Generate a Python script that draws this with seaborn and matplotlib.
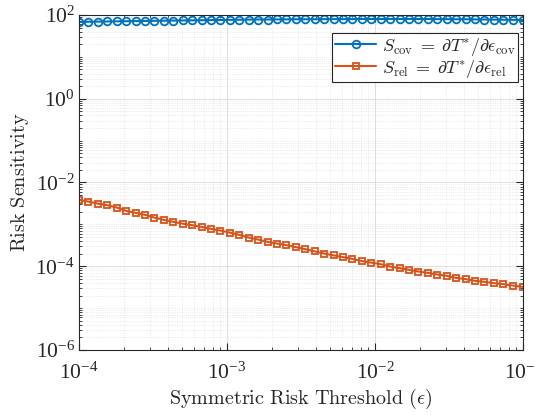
import numpy as np
import pandas as pd
import seaborn as sns
import matplotlib
matplotlib.use("Agg")
import matplotlib.pyplot as plt
from matplotlib.ticker import LogLocator, FixedLocator, NullFormatter

# Risk threshold grid (epsilon)
epsilon = [
    1.000e-4, 1.158e-4, 1.341e-4, 1.553e-4, 1.798e-4, 2.082e-4, 2.411e-4, 2.792e-4,
    3.233e-4, 3.744e-4, 4.335e-4, 5.020e-4, 5.813e-4, 6.732e-4, 7.795e-4, 9.027e-4,
    1.045e-3, 1.210e-3, 1.402e-3, 1.623e-3, 1.880e-3, 2.176e-3, 2.520e-3, 2.918e-3,
    3.380e-3, 3.914e-3, 4.532e-3, 5.248e-3, 6.077e-3, 7.037e-3, 8.149e-3, 9.437e-3,
    1.093e-2, 1.265e-2, 1.465e-2, 1.697e-2, 1.965e-2, 2.275e-2, 2.635e-2, 3.051e-2,
    3.533e-2, 4.091e-2, 4.737e-2, 5.486e-2, 6.353e-2, 7.356e-2, 8.519e-2, 1.000e-1,
]

# Sensitivity with respect to the covariance risk budget
s_cov = [
    68.0, 69.0, 69.5, 70.0, 70.5, 71.0, 71.5, 72.0,
    72.5, 73.0, 73.5, 74.0, 74.5, 75.0, 75.5, 76.0,
    76.5, 77.0, 77.5, 78.0, 78.0, 78.5, 78.5, 79.0,
    79.0, 79.0, 79.5, 79.5, 79.5, 79.5, 80.0, 80.0,
    80.0, 80.0, 80.0, 80.0, 80.0, 80.0, 79.5, 79.5,
    79.0, 79.0, 78.5, 78.0, 77.5, 77.0, 76.5, 76.0,
]

# Sensitivity with respect to the reliability risk budget
s_rel = [
    3.85e-3, 3.50e-3, 3.13e-3, 2.87e-3, 2.52e-3, 2.10e-3, 1.88e-3, 1.69e-3,
    1.45e-3, 1.28e-3, 1.15e-3, 1.04e-3, 9.57e-4, 8.71e-4, 7.81e-4, 7.11e-4,
    6.37e-4, 5.61e-4, 4.84e-4, 4.34e-4, 3.82e-4, 3.48e-4, 3.19e-4, 2.87e-4,
    2.56e-4, 2.27e-4, 2.01e-4, 1.82e-4, 1.65e-4, 1.50e-4, 1.33e-4, 1.22e-4,
    1.12e-4, 9.84e-5, 9.02e-5, 8.20e-5, 7.48e-5, 6.96e-5, 6.34e-5, 5.90e-5,
    5.28e-5, 4.92e-5, 4.49e-5, 4.25e-5, 3.95e-5, 3.74e-5, 3.46e-5, 3.22e-5,
]

x_ticks = [1e-4, 1e-3, 1e-2, 1e-1]
x_tick_labels = ["-4", "-3", "-2", "-1"]
y_ticks = [1e-6, 1e-4, 1e-2, 1e0, 1e2]
y_tick_labels = ["-6", "-4", "-2", "0", "2"]

label_cov = r"$S_{\rm cov}\;=\;\partial T^{*}/\partial \epsilon_{\rm cov}$"
label_rel = r"$S_{\rm rel}\;=\;\partial T^{*}/\partial \epsilon_{\rm rel}$"

df = pd.DataFrame({"epsilon": epsilon, "cov": s_cov, "rel": s_rel})

sns.set_style("ticks")
plt.rcParams["font.family"] = ["Liberation Serif", "DejaVu Serif"]
plt.rcParams["mathtext.fontset"] = "cm"

fig = plt.figure(figsize=(5.35, 4.15), dpi=100)
ax = fig.add_axes([0.1477, 0.1566, 0.8299, 0.8073])

blue = "#0072BD"
orange = "#D95319"

sns.lineplot(data=df, x="epsilon", y="cov", ax=ax, color=blue, lw=1.5,
             marker="o", markersize=5.5, markerfacecolor="none",
             markeredgecolor=blue, markeredgewidth=1.3, label=label_cov)
sns.lineplot(data=df, x="epsilon", y="rel", ax=ax, color=orange, lw=1.5,
             marker="s", markersize=5, markerfacecolor="none",
             markeredgecolor=orange, markeredgewidth=1.3, label=label_rel)

ax.set_xscale("log")
ax.set_yscale("log")
ax.set_xlim(1e-4, 1e-1)
ax.set_ylim(1e-6, 1e2)

axis_color = "#262626"
for sp in ax.spines.values():
    sp.set_color(axis_color)
    sp.set_linewidth(0.8)

ax.xaxis.set_major_locator(FixedLocator(x_ticks))
ax.yaxis.set_major_locator(FixedLocator(y_ticks))
ax.set_xticklabels([r"$\mathregular{10^{%s}}$" % t for t in x_tick_labels])
ax.set_yticklabels([r"$\mathregular{10^{%s}}$" % t for t in y_tick_labels])
ax.xaxis.set_minor_locator(LogLocator(base=10, subs=np.arange(2, 10), numticks=20))
ax.yaxis.set_minor_locator(LogLocator(base=10, subs=np.arange(1, 10), numticks=20))
ax.xaxis.set_minor_formatter(NullFormatter())
ax.yaxis.set_minor_formatter(NullFormatter())

ax.tick_params(which="both", direction="in", top=True, right=True, color=axis_color,
               labelcolor=axis_color, labelsize=15.5)
ax.tick_params(which="major", length=5, width=0.8)
ax.tick_params(which="minor", length=2.5, width=0.6)
ax.tick_params(axis="x", pad=9)
ax.tick_params(axis="y", pad=3)

ax.grid(True, which="major", color="#d9d9d9", lw=0.6, ls="-")
ax.grid(True, which="minor", color="#dcdcdc", lw=0.5, ls=":")
ax.set_axisbelow(True)

ax.set_xlabel(r"$\mathrm{Symmetric\ Risk\ Threshold\ }(\epsilon)$", fontsize=14.5,
              color=axis_color, labelpad=2)
ax.set_ylabel(r"$\mathrm{Risk\ Sensitivity}$", fontsize=14.5, color=axis_color, labelpad=3)

leg = ax.legend(loc="upper right", bbox_to_anchor=(0.989, 0.946), borderaxespad=0,
                fontsize=13, frameon=True, fancybox=False, framealpha=1,
                edgecolor=axis_color, handlelength=2.3, handletextpad=0.3,
                borderpad=0.15, labelspacing=0.0, numpoints=1)
leg.get_frame().set_linewidth(0.8)

fig.savefig("out.png", dpi=100)
